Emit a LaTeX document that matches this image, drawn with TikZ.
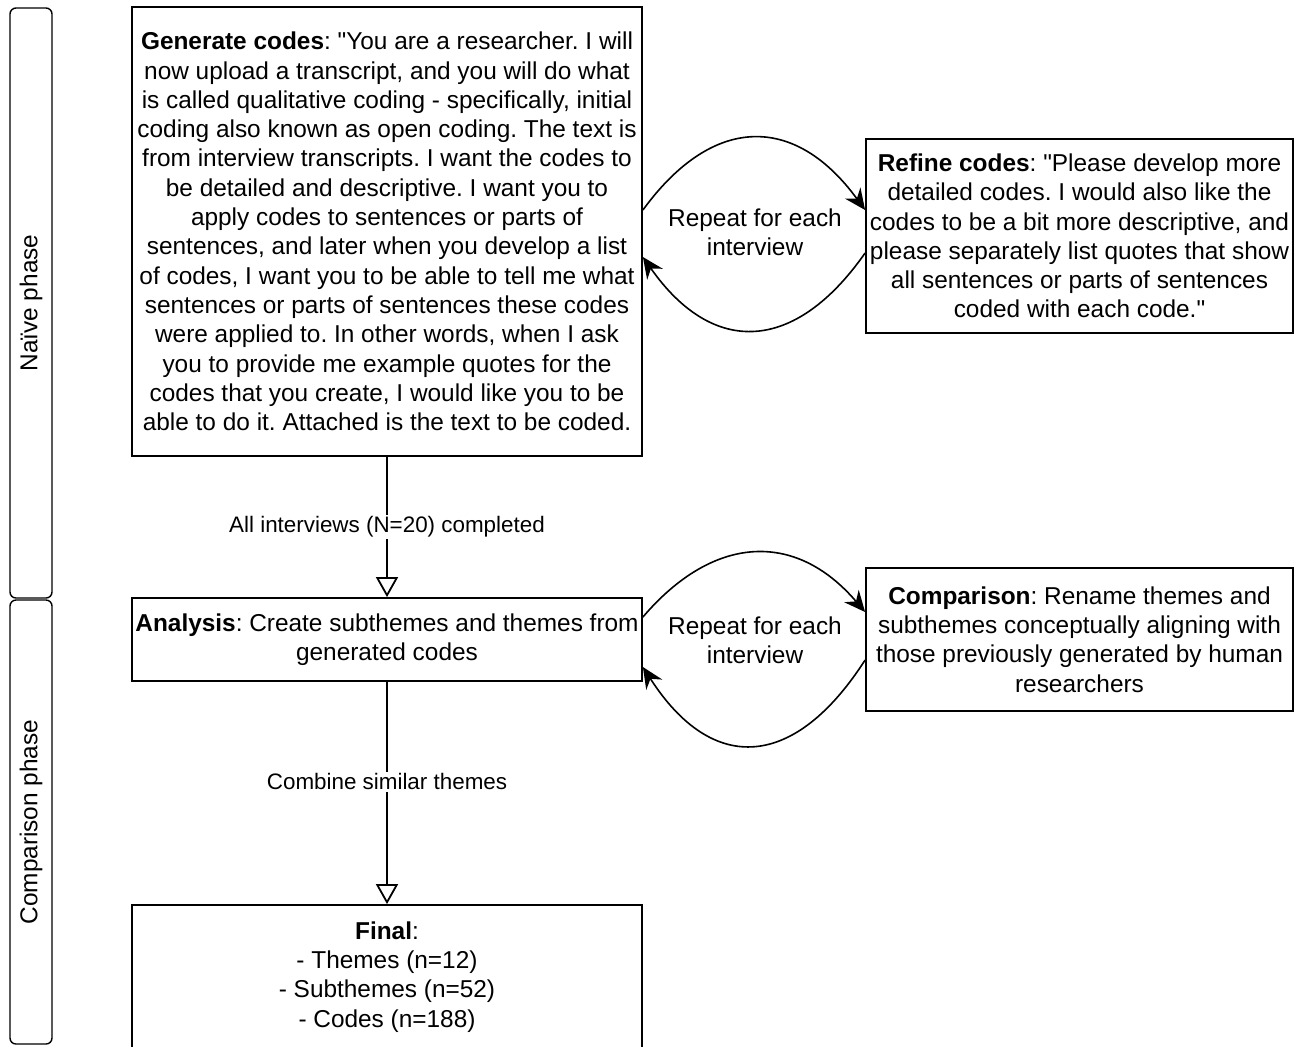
\documentclass[tikz,border=0pt]{standalone}
\usepackage{fontspec}
\setmainfont{Liberation Sans}[Ligatures=TeXOff]
\usetikzlibrary{arrows.meta}
\frenchspacing

\begin{document}
\begin{tikzpicture}[x=0.5pt,y=-0.5pt,font=\fontsize{12.2}{14.65}\selectfont]

% ---------- common style ----------
\tikzstyle{stepbox}=[draw=black,line width=0.9pt,align=center,inner sep=1pt]
\tikzstyle{lane}=[draw=black,line width=0.7pt,rounded corners=3pt,rotate=90,minimum height=21pt,inner sep=0pt]
\tikzstyle{flow}=[draw=black,line width=0.9pt,-{Triangle[open,length=10pt,width=11pt]}]
\tikzstyle{loop}=[draw=black,line width=0.8pt,-{Stealth[length=10.5pt,width=9.5pt,inset=3.5pt]}]
\tikzstyle{edgelabel}=[fill=white,inner sep=1pt,font=\fontsize{11.2}{13.4}\selectfont]

\useasboundingbox (0,0) rectangle (1295,1046);
\fill[white] (0,0) rectangle (1295,1046);

% ================== swim lanes ==================
\node[lane,minimum width=295pt] (naive) at (31,303) {Naïve phase};
\node[lane,minimum width=222pt] (compare) at (31,822) {Comparison phase};

% ================== naive phase ==================
\node[stepbox,minimum width=255pt,minimum height=224.5pt] (gen) at (387,231.5)
  {\textbf{Generate codes}: "You are a researcher. I will\\
   now upload a transcript, and you will do what\\
   is called qualitative coding - specifically, initial\\
   coding also known as open coding. The text is\\
   from interview transcripts. I want the codes to\\
   be detailed and descriptive. I want you to\\
   apply codes to sentences or parts of\\
   sentences, and later when you develop a list\\
   of codes, I want you to be able to tell me what\\
   sentences or parts of sentences these codes\\
   were applied to. In other words, when I ask\\
   you to provide me example quotes for the\\
   codes that you create, I would like you to be\\
   able to do it. Attached is the text to be coded.};

\node[stepbox,minimum width=213.5pt,minimum height=97pt] (refine) at (1079.5,236)
  {\textbf{Refine codes}: "Please develop more\\
   detailed codes. I would also like the\\
   codes to be a bit more descriptive, and\\
   please separately list quotes that show\\
   all sentences or parts of sentences\\
   coded with each code."};

\node[align=center] (rep1) at (755,232) {Repeat for each\\interview};

% loop between generate and refine
\draw[loop] ([yshift=10.75pt]gen.east) .. controls +(70,-96) and +(-70,-96) .. ([yshift=13pt]refine.west);
\draw[loop] ([yshift=-8.5pt]refine.west) .. controls +(-70,100) and +(70,100) .. ([yshift=-12.75pt]gen.east);

% ================== comparison phase ==================
\node[stepbox,minimum width=255pt,minimum height=41.5pt] (ana) at (387,639.5)
  {\textbf{Analysis}: Create subthemes and themes from\\generated codes};

\node[stepbox,minimum width=213.5pt,minimum height=71.5pt] (comp) at (1079.5,639.5)
  {\textbf{Comparison}: Rename themes and\\
   subthemes conceptually aligning with\\
   those previously generated by human\\
   researchers};

\node[align=center] (rep2) at (755,640) {Repeat for each\\interview};

\draw[loop] ([yshift=11.25pt]ana.east) .. controls +(70,-82) and +(-70,-82) .. ([yshift=13.75pt]comp.west);
\draw[loop] ([yshift=-10.25pt]comp.west) .. controls +(-70,109) and +(70,109) .. ([yshift=-13.75pt]ana.east);

\node[stepbox,minimum width=255pt,minimum height=72pt] (final) at (387,977)
  {\textbf{Final}:\\- Themes (n=12)\\- Subthemes (n=52)\\- Codes (n=188)};

% main flow
\draw[flow] (gen.south) -- node[edgelabel] {All interviews (N=20) completed} (ana.north);
\draw[flow] (ana.south) -- node[edgelabel,pos=0.45] {Combine similar themes} (final.north);

\end{tikzpicture}
\end{document}
